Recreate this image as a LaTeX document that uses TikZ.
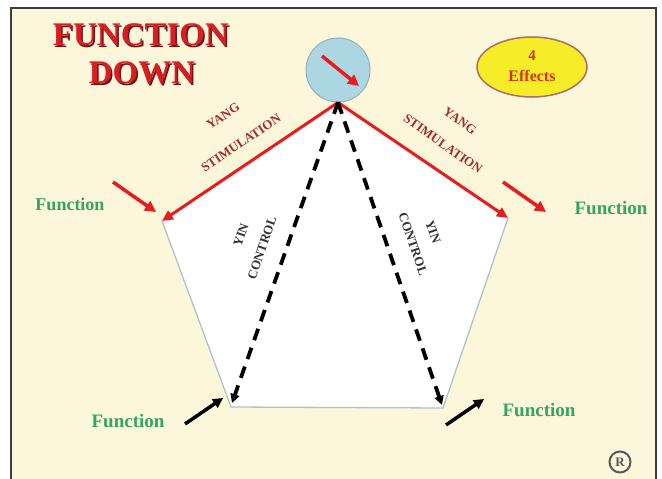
\documentclass[tikz,border=0pt]{standalone}
\usepackage{fontspec}
\setmainfont{Liberation Serif}
\usetikzlibrary{arrows.meta}
\definecolor{bgcream}{RGB}{252,246,218}
\definecolor{framegray}{RGB}{60,60,60}
\definecolor{circblue}{RGB}{172,214,226}
\definecolor{circedge}{RGB}{150,175,180}
\definecolor{arrowred}{RGB}{232,28,30}
\definecolor{titlered}{RGB}{214,30,36}
\definecolor{titleshadow}{RGB}{110,20,20}
\definecolor{yangred}{RGB}{165,45,50}
\definecolor{funcgreen}{RGB}{52,165,95}
\definecolor{effyellow}{RGB}{246,236,40}
\definecolor{effedge}{RGB}{170,110,100}
\definecolor{efftext}{RGB}{210,55,20}
\definecolor{pentedge}{RGB}{175,195,200}
\tikzset{
  redarrow/.style={draw=arrowred, line width=3pt, -{Triangle[length=11pt,width=10pt]}},
  shortred/.style={draw=arrowred, line width=3.5pt, -{Triangle[length=11pt,width=11pt]}},
  shortblack/.style={draw=black, line width=3.5pt, -{Triangle[length=10pt,width=10pt]}},
  dasharrow/.style={draw=black, line width=3.8pt, dash pattern=on 12pt off 8pt, -{Triangle[length=9pt,width=9pt]}},
  funclabel/.style={text=funcgreen, font=\bfseries\fontsize{19}{21}\selectfont, inner sep=0pt},
  yanglabel/.style={text=yangred, font=\bfseries\fontsize{13}{14}\selectfont, inner sep=0pt},
  yinlabel/.style={text=black!80, font=\bfseries\fontsize{13}{14}\selectfont, inner sep=0pt},
  titlelabel/.style={font=\bfseries\fontsize{33}{36}\selectfont, inner sep=0pt},
}
\begin{document}
\begin{tikzpicture}[x=1pt,y=-1pt]
\useasboundingbox (0,0) rectangle (662,479);
\fill[white] (0,0) rectangle (662,479);
\draw[draw=framegray, line width=1.6pt, fill=bgcream] (11,8) rectangle (656,490);

% pentagon
\coordinate (pl) at (162,221);
\coordinate (pr) at (508,218);
\coordinate (pbl) at (231,407);
\coordinate (pbr) at (443,408);
\node[circle, fill=circblue, draw=circedge, line width=1pt, minimum size=64pt, inner sep=0pt] (sun) at (338,70) {};
\coordinate (pt) at (sun.south);
\fill[white] (pt) -- (pr) -- (pbr) -- (pbl) -- (pl) -- cycle;
\draw[pentedge, line width=1.3pt] (pl) -- (pbl) -- (pbr) -- (pr);

% arrow inside circle
\coordinate (sa) at (322,56);
\coordinate (sb) at (359,86);
\draw[shortred] (sa) -- (sb);

% yang arrows
\draw[redarrow] (pt) -- (pl);
\draw[redarrow] (pt) -- (pr);

% yin dashed arrows
\coordinate (dl) at (232,403);
\coordinate (dr) at (442,405);
\draw[dasharrow] (pt) -- (dl);
\draw[dasharrow] (pt) -- (dr);

% short red arrows
\coordinate (ra1) at (113,182);
\coordinate (ra2) at (156,212);
\coordinate (rb1) at (503,182);
\coordinate (rb2) at (546,212);
\draw[shortred] (ra1) -- (ra2);
\draw[shortred] (rb1) -- (rb2);

% short black arrows
\coordinate (ba1) at (185,424);
\coordinate (ba2) at (223,398);
\coordinate (bb1) at (446,425);
\coordinate (bb2) at (484,399);
\draw[shortblack] (ba1) -- (ba2);
\draw[shortblack] (bb1) -- (bb2);

% title
\node[titlelabel, text=titleshadow] (t1s) at (142.5,36.5) {FUNCTION};
\node[titlelabel, text=titlered] (t1) at (141,35) {FUNCTION};
\node[titlelabel, text=titleshadow] (t2s) at (143.5,74.5) {DOWN};
\node[titlelabel, text=titlered] (t2) at (142,73) {DOWN};

% effects ellipse
\draw[fill=effyellow, draw=effedge, line width=1.5pt] (532,67) ellipse [x radius=55, y radius=30];
\node[text=efftext, font=\bfseries\fontsize{15}{16}\selectfont, inner sep=0pt] (e4) at (532,56) {4};
\node[text=efftext, font=\bfseries\fontsize{16}{17}\selectfont, inner sep=0pt] (eff) at (532,76) {Effects};

% function labels
\node[funclabel, font=\bfseries\fontsize{18}{20}\selectfont] (f1) at (70,204) {Function};
\node[funclabel] (f2) at (611,208) {Function};
\node[funclabel] (f3) at (128,421) {Function};
\node[funclabel] (f4) at (539,410) {Function};

% yang labels
\node[yanglabel, rotate=34] (yl1) at (223,116) {YANG};
\node[yanglabel, rotate=34] (yl2) at (241,143) {STIMULATION};
\node[yanglabel, rotate=-35] (yr1) at (460,121) {YANG};
\node[yanglabel, rotate=-35] (yr2) at (443,144) {STIMULATION};

% yin labels
\node[yinlabel, rotate=71] (il1) at (241,235) {YIN};
\node[yinlabel, rotate=71] (il2) at (262,248) {CONTROL};
\node[yinlabel, rotate=-71] (ir1) at (433,232) {YIN};
\node[yinlabel, rotate=-71] (ir2) at (413,244) {CONTROL};

% registered mark
\node[circle, draw=black!65, line width=2pt, minimum size=21pt, inner sep=0pt, text=black!65, font=\bfseries\fontsize{13}{13}\selectfont] (reg) at (620,462) {R};
\end{tikzpicture}
\end{document}
